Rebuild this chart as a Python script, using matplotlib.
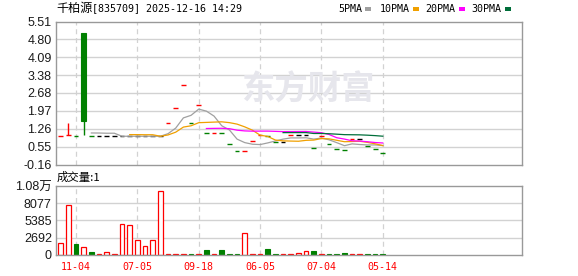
import numpy as np
import pandas as pd
import matplotlib
matplotlib.use("Agg")
import matplotlib.pyplot as plt
from matplotlib.patches import Rectangle

# ---------------- data ----------------
stock_name = "千柏源"
stock_info = "[835709] 2025-12-16 14:29"
volume_title = "成交量:1"
watermark = "东方财富"

date_labels = ["11-04", "07-05", "09-18", "06-05", "07-04", "05-14"]
date_label_idx = [2, 10, 18, 26, 34, 42]

closes = [0.97, 1.00, 0.96, 1.56, 0.96, 0.96, 0.96, 0.96, 0.96, 0.96,
          0.96, 0.96, 0.96, 0.96, 1.47, 2.07, 2.98, 1.47, 2.19, 1.07,
          1.08, 1.07, 0.64, 0.37, 0.38, 0.76, 1.00, 0.97, 0.75, 0.75,
          1.00, 1.00, 1.00, 0.48, 0.97, 0.64, 0.44, 0.40, 0.84, 0.84,
          0.56, 0.44, 0.28]
opens = list(closes)
opens[3] = 5.07
highs = list(closes)
highs[1] = 1.47
highs[3] = 5.07
lows = list(closes)
lows[3] = 0.99

volumes = [1790, 7790, 1680, 1160, 420, 150, 380, 150, 4810, 4650,
           2260, 1310, 2260, 9940, 150, 150, 150, 150, 150, 740,
           150, 740, 150, 150, 3350, 150, 150, 890, 150, 150,
           150, 310, 580, 580, 150, 150, 150, 270, 150, 150,
           150, 150, 150]

ma_periods = [5, 10, 20, 30]
ma_labels = ["5PMA", "10PMA", "20PMA", "30PMA"]

price_ticks = [-0.16, 0.55, 1.26, 1.97, 2.68, 3.38, 4.09, 4.80, 5.51]
price_tick_labels = ["-0.16", "0.55", "1.26", "1.97", "2.68", "3.38", "4.09", "4.80", "5.51"]
vol_ticks = [0, 2692, 5385, 8077, 10770]
vol_tick_labels = ["0", "2692", "5385", "8077", "1.08万"]

# ---------------- style ----------------
RED = "#ff0000"
GREEN = "#008000"
BLACK = "#000000"
ma_colors = ["#a0a0a0", "#f0a000", "#ff00ff", "#006e3a"]
GRID = "#d2d2d2"
SPINE = "#999999"

W, H = 578, 276
fig = plt.figure(figsize=(W / 100, H / 100), dpi=100)
fig.patch.set_facecolor("white")


def fx(px):
    return px / W


def fy(py):
    return 1 - py / H


L, R = 56, 522
ax = fig.add_axes([fx(L), fy(164.5), fx(R) - fx(L), fy(21.5) - fy(164.5)])
axv = fig.add_axes([fx(L), fy(254.7), fx(R) - fx(L), fy(186) - fy(254.7)])

n = len(closes)
idx = np.arange(n)
xlim = (-0.61, 60.15)

mono = ["DejaVu Sans Mono"]
cjk = ["Noto Sans CJK SC"]
num = ["Liberation Sans", "Noto Sans CJK SC"]

for a in (ax, axv):
    a.set_xlim(*xlim)
    for s in a.spines.values():
        s.set_color(SPINE)
        s.set_linewidth(1.0)
    a.tick_params(length=0, colors="#1a1a1a")
    for xi in date_label_idx:
        a.axvline(xi, color=GRID, lw=0.9, ls=(0, (4, 3)), zorder=0)

# ---------------- price panel ----------------
ax.set_ylim(price_ticks[0], price_ticks[-1])
ax.set_yticks(price_ticks)
ax.set_yticklabels(price_tick_labels, fontfamily=num, fontsize=9)
ax.set_xticks([])
for t in price_ticks[1:-1]:
    ax.axhline(t, color=GRID, lw=1.0, zorder=0)

ax.text(0.54, 0.52, watermark, transform=ax.transAxes, ha="center", va="center",
        fontsize=24, fontweight="bold", color="#e6e6ec", family=cjk, zorder=0.5)

dw = 0.62
bw = 0.65
for i in idx:
    o, h, l, c = opens[i], highs[i], lows[i], closes[i]
    prev = closes[i - 1] if i > 0 else None
    if o == c:
        if prev is None or c > prev:
            col = RED
        elif c < prev:
            col = GREEN
        else:
            col = BLACK
        ax.hlines(c, i - dw / 2, i + dw / 2, color=col, lw=1.0, zorder=2)
        if h > l:
            ax.vlines(i, l, h, color=col, lw=1.0, zorder=2)
    else:
        col = RED if c > o else GREEN
        ax.vlines(i, l, h, color=col, lw=1.0, zorder=2)
        ax.add_patch(Rectangle((i - bw / 2, min(o, c)), bw, abs(c - o),
                               facecolor=col if c < o else "white",
                               edgecolor=col, lw=0.8, zorder=2.1))

cs = pd.Series(closes)
for p, colr in zip(ma_periods, ma_colors):
    ma = cs.rolling(p).mean()
    ax.plot(idx, ma.values, color=colr, lw=0.9, zorder=3)

# ---------------- volume panel ----------------
axv.set_ylim(vol_ticks[0], vol_ticks[-1])
axv.set_yticks(vol_ticks)
axv.set_yticklabels(vol_tick_labels, fontfamily=num, fontsize=9)
for t in vol_ticks[1:-1]:
    axv.axhline(t, color=GRID, lw=1.0, zorder=0)

vw = 0.6
for i in idx:
    prev = closes[i - 1] if i > 0 else None
    down = prev is not None and closes[i] < prev
    if down:
        axv.bar(i, volumes[i], width=vw, color=GREEN, edgecolor=GREEN, lw=0.8, zorder=2)
    else:
        axv.bar(i, volumes[i], width=vw, facecolor="white", edgecolor=RED, lw=0.9, zorder=2)

axv.set_xticks(date_label_idx)
axv.set_xticklabels(date_labels, fontfamily=mono, fontsize=7.2, color=RED)
axv.tick_params(axis="x", pad=5)
axv.tick_params(axis="y", pad=3)
ax.tick_params(axis="y", pad=3)

# ---------------- texts ----------------
fig.text(fx(56), fy(8.5), stock_name, family=cjk, fontsize=8.7, va="center", ha="left")
fig.text(fx(92), fy(8.5), stock_info, family=mono, fontsize=7.2, va="center", ha="left")
fig.text(fx(57), fy(177), volume_title, family=cjk, fontsize=8.2, va="center", ha="left")

leg_text_x = [338.7, 380, 425.7, 471.7]
leg_box_x = [365, 412.7, 459, 505]
for lab, colr, tx, bx in zip(ma_labels, ma_colors, leg_text_x, leg_box_x):
    fig.text(fx(tx), fy(8.5), lab, family=mono, fontsize=7.2, va="center", ha="left")
    fig.patches.append(Rectangle((fx(bx), fy(10.5)), 6 / W, 3 / H, transform=fig.transFigure,
                                 facecolor=colr, edgecolor="none"))

fig.savefig("out.png", dpi=100)
